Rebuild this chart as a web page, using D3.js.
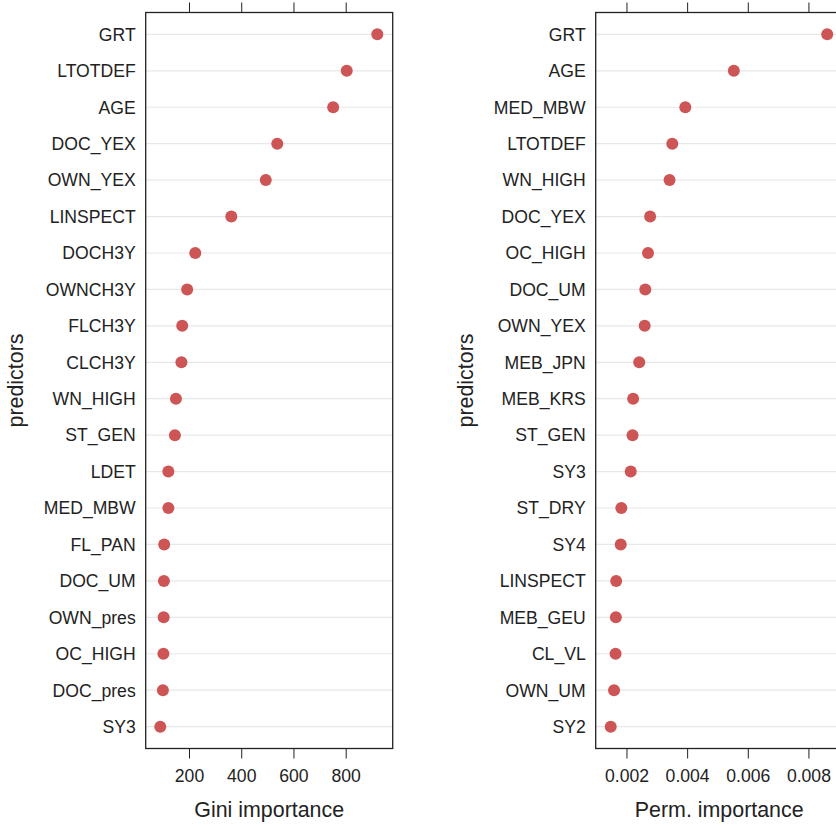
<!DOCTYPE html>
<html>
<head>
<meta charset="utf-8">
<script src="https://cdn.jsdelivr.net/npm/d3@7"></script>
<style>
  body { margin: 0; background: #fff; }
  text { font-family: "Liberation Sans", Arial, sans-serif; fill: #222; }
</style>
</head>
<body>
<svg id="chart"></svg>
<script>
// Random forest variable importance, two dot plots side by side

var width = 836;
var height = 825;

// left panel: Gini importance
var giniPredictors = ["GRT", "LTOTDEF", "AGE", "DOC_YEX", "OWN_YEX", "LINSPECT", "DOCH3Y", "OWNCH3Y",
    "FLCH3Y", "CLCH3Y", "WN_HIGH", "ST_GEN", "LDET", "MED_MBW", "FL_PAN", "DOC_UM", "OWN_pres",
    "OC_HIGH", "DOC_pres", "SY3"];
var giniValues = [921, 804, 752, 538, 494, 362, 224, 193, 174, 171, 150, 146, 121, 121, 105, 104, 103,
    102, 100, 90];
var giniTicks = [200, 400, 600, 800];

// right panel: permutation importance
var permPredictors = ["GRT", "AGE", "MED_MBW", "LTOTDEF", "WN_HIGH", "DOC_YEX", "OC_HIGH", "DOC_UM",
    "OWN_YEX", "MEB_JPN", "MEB_KRS", "ST_GEN", "SY3", "ST_DRY", "SY4", "LINSPECT", "MEB_GEU", "CL_VL",
    "OWN_UM", "SY2"];
var permValues = [0.00862, 0.00554, 0.00394, 0.00351, 0.00342, 0.00278, 0.00271, 0.00262, 0.00260,
    0.00242, 0.00222, 0.00220, 0.00214, 0.00183, 0.00181, 0.00166, 0.00165, 0.00164, 0.00159, 0.00148];
var permTicks = [0.002, 0.004, 0.006, 0.008];

var svg = d3.select("#chart")
    .attr("width", width)
    .attr("height", height);

var boxTop = 12.5;
var boxBottom = 748.5;
var boxWidth = 247;

function drawPanel(left, predictors, values, domain, ticks, fmt, title) {
    var x = d3.scaleLinear()
        .domain(domain)
        .range([left, left + boxWidth]);

    var y = d3.scalePoint()
        .domain(predictors)
        .range([boxTop, boxBottom])
        .padding(0.6);

    var g = svg.append("g");

    // light grid line per predictor
    g.selectAll("line.grid")
        .data(predictors)
        .enter().append("line")
        .attr("class", "grid")
        .attr("x1", left)
        .attr("x2", left + boxWidth)
        .attr("y1", function(d) { return y(d); })
        .attr("y2", function(d) { return y(d); })
        .style("stroke", "#e8e8e8")
        .style("stroke-width", 1.2);

    // predictor names
    g.selectAll("text.name")
        .data(predictors)
        .enter().append("text")
        .attr("class", "name")
        .attr("x", left - 10)
        .attr("y", function(d) { return y(d); })
        .attr("dy", "0.36em")
        .style("text-anchor", "end")
        .style("font-size", "17.6px")
        .text(function(d) { return d; });

    // bottom axis with labels
    var xAxis = d3.axisBottom(x)
        .tickValues(ticks)
        .tickSize(10)
        .tickPadding(11)
        .tickFormat(fmt);

    var bottom = g.append("g")
        .attr("transform", "translate(0," + boxBottom + ")")
        .call(xAxis);
    bottom.select(".domain").remove();
    bottom.selectAll("text")
        .style("font-size", "17.6px")
        .style("font-family", "Liberation Sans, Arial, sans-serif")
        .style("fill", "#222");
    bottom.selectAll("line").style("stroke", "#222");

    // top ticks, no labels
    var top = g.append("g")
        .attr("transform", "translate(0," + boxTop + ")")
        .call(d3.axisTop(x).tickValues(ticks).tickSize(10).tickFormat(""));
    top.select(".domain").remove();
    top.selectAll("line").style("stroke", "#222");

    // panel box
    g.append("rect")
        .attr("x", left)
        .attr("y", boxTop)
        .attr("width", boxWidth)
        .attr("height", boxBottom - boxTop)
        .style("fill", "none")
        .style("stroke", "#222")
        .style("stroke-width", 1.3);

    // points
    g.selectAll("circle")
        .data(values)
        .enter().append("circle")
        .attr("cx", function(d) { return x(d); })
        .attr("cy", function(d, i) { return y(predictors[i]); })
        .attr("r", 6)
        .style("fill", "#CD5555");

    // axis titles
    g.append("text")
        .attr("x", left + boxWidth / 2)
        .attr("y", 817)
        .style("text-anchor", "middle")
        .style("font-size", "21.4px")
        .text(title);

    g.append("text")
        .attr("transform", "translate(" + (left - 123) + "," + ((boxTop + boxBottom) / 2) + ") rotate(-90)")
        .style("text-anchor", "middle")
        .style("font-size", "21.4px")
        .text("predictors");
}

drawPanel(145.7, giniPredictors, giniValues, [34.2, 980], giniTicks, d3.format("d"), "Gini importance");
drawPanel(595.7, permPredictors, permValues, [0.000985, 0.00913], permTicks, d3.format(".3f"), "Perm. importance");
</script>
</body>
</html>
